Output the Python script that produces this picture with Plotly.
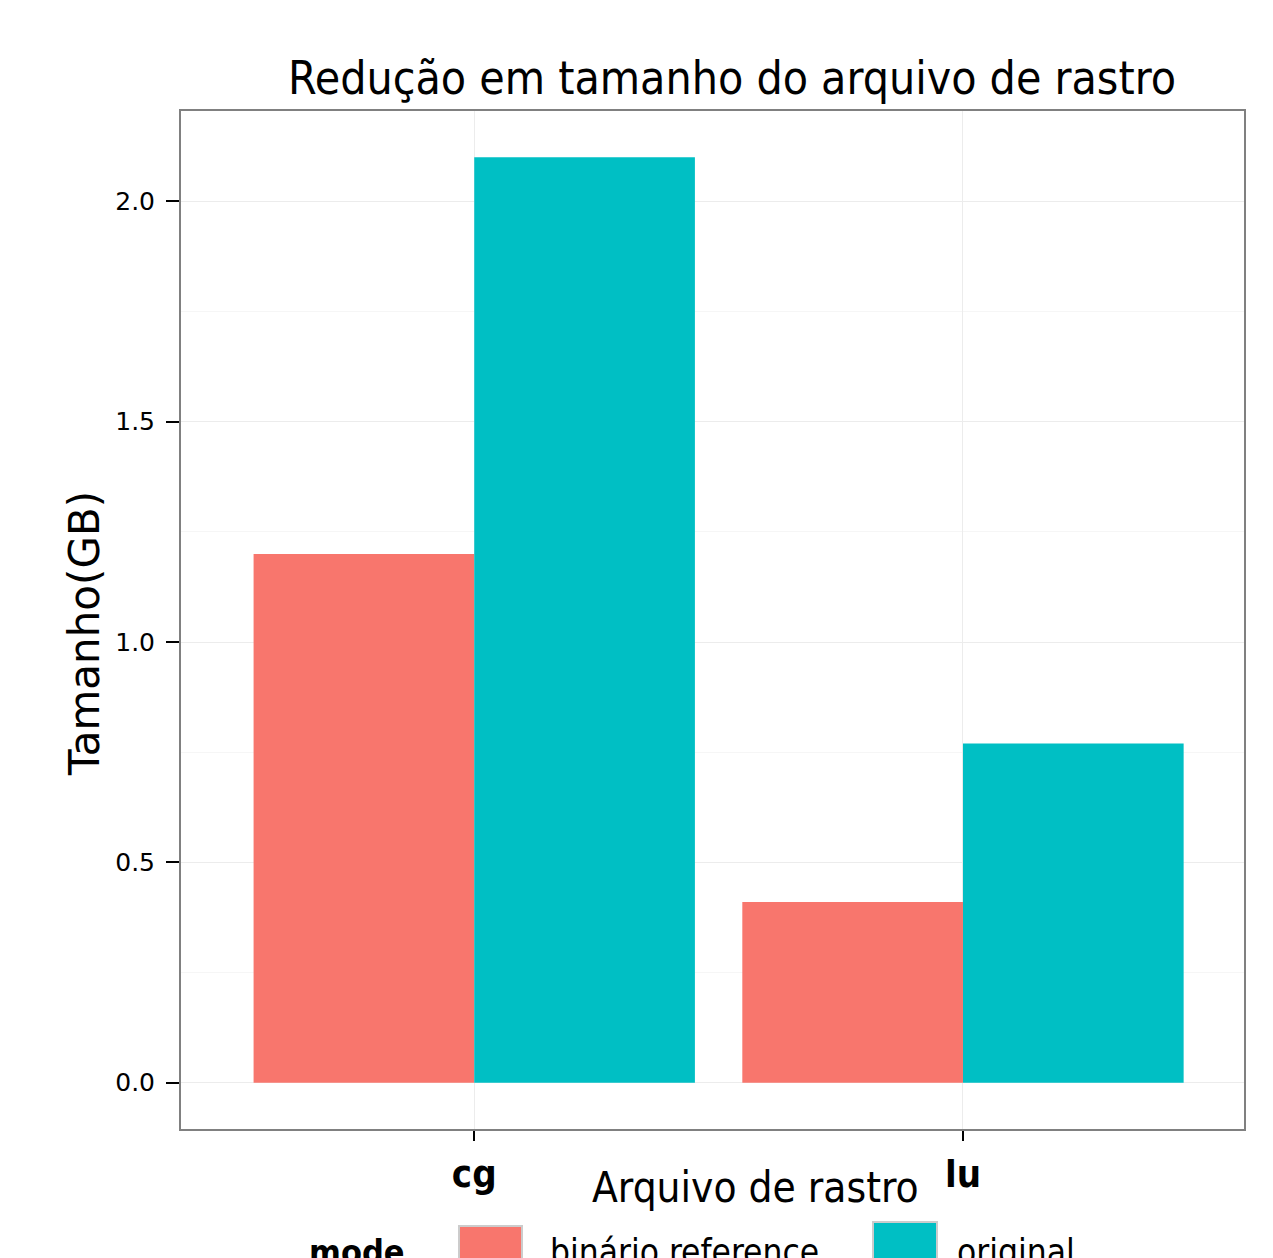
import plotly.graph_objects as go

categories = ["cg", "lu"]
binario_reference = [1.2, 0.41]
original = [2.1, 0.77]
series_names = ["binário reference", "original"]
series_colors = ["#F8766D", "#00BFC4"]
y_ticks = [0.0, 0.5, 1.0, 1.5, 2.0]
y_tick_labels = ["0.0", "0.5", "1.0", "1.5", "2.0"]

NARROW = "Liberation Sans Narrow, DejaVu Sans Condensed, Arial Narrow, sans-serif"
WIDE = "DejaVu Sans, sans-serif"

W, H = 1273, 1258
L, R, T, B = 181, 29, 111, 129
PW, PH = W - L - R, H - T - B


def px_to_paper_y(ypx):
    return (H - B - ypx) / PH


def px_to_paper_x(xpx):
    return (xpx - L) / PW


fig = go.Figure()
for name, vals, col in zip(series_names, [binario_reference, original], series_colors):
    fig.add_trace(go.Bar(x=categories, y=vals, name=name, marker=dict(color=col, line=dict(width=0)),
                         showlegend=False))

fig.update_layout(
    width=W, height=H,
    margin=dict(l=L, r=R, t=T, b=B, autoexpand=False),
    paper_bgcolor="white", plot_bgcolor="white",
    barmode="group", bargap=0.097, bargroupgap=0,
    title=dict(text="Redução em tamanho do arquivo de rastro", x=732 / W, xanchor="center",
               y=1 - 78 / H, yanchor="middle", font=dict(family=NARROW, size=46, color="black")),
)

fig.update_xaxes(
    range=[-0.6, 1.575], showline=True, mirror=True, linecolor="#808080", linewidth=2,
    showgrid=True, gridcolor="#ececec", gridwidth=1,
    ticks="outside", ticklen=10, tickcolor="black", tickwidth=2,
    tickfont=dict(family=NARROW, size=38, color="black", weight="bold"),
    ticklabelstandoff=0, zeroline=False,
)
fig.update_yaxes(
    range=[-0.105, 2.205], showline=True, mirror=True, linecolor="#808080", linewidth=2,
    tickvals=y_ticks, ticktext=y_tick_labels,
    showgrid=True, gridcolor="#ececec", gridwidth=1,
    minor=dict(dtick=0.25, showgrid=True, gridcolor="#f6f6f6", gridwidth=1, ticks=""),
    ticks="outside", ticklen=13, tickcolor="black", tickwidth=2,
    tickfont=dict(family=WIDE, size=25, color="black"),
    ticklabelstandoff=6, zeroline=False,
)

# axis titles
fig.add_annotation(text="Arquivo de rastro", xref="paper", yref="paper",
                   x=px_to_paper_x(755), y=px_to_paper_y(1187), xanchor="center", yanchor="middle",
                   showarrow=False, font=dict(family=NARROW, size=42, color="black"))
fig.add_annotation(text="Tamanho(GB)", xref="paper", yref="paper",
                   x=px_to_paper_x(84), y=px_to_paper_y(634), xanchor="center", yanchor="middle",
                   textangle=-90, showarrow=False, font=dict(family=WIDE, size=42, color="black"))

# legend (drawn manually)
fig.add_annotation(text="<b>mode</b>", xref="paper", yref="paper",
                   x=px_to_paper_x(307), y=px_to_paper_y(1252), xanchor="left", yanchor="middle",
                   showarrow=False, font=dict(family=NARROW, size=34, color="black"))
swatches = [(459, 522, 1226), (873, 937, 1222)]
text_x = [548, 955]
for (x0, x1, y0), col, name, tx in zip(swatches, series_colors, series_names, text_x):
    fig.add_shape(type="rect", xref="paper", yref="paper",
                  x0=px_to_paper_x(x0), x1=px_to_paper_x(x1),
                  y0=px_to_paper_y(y0), y1=px_to_paper_y(y0 + 70),
                  fillcolor=col, line=dict(color="#cccccc", width=2), layer="above")
    fig.add_annotation(text=name, xref="paper", yref="paper",
                       x=px_to_paper_x(tx), y=px_to_paper_y(1252), xanchor="left", yanchor="middle",
                       showarrow=False, font=dict(family=NARROW, size=35, color="black"))

fig.write_html("out.html", config={"displayModeBar": False},
               post_script="document.body.style.margin='0px';document.body.style.overflow='hidden';")
